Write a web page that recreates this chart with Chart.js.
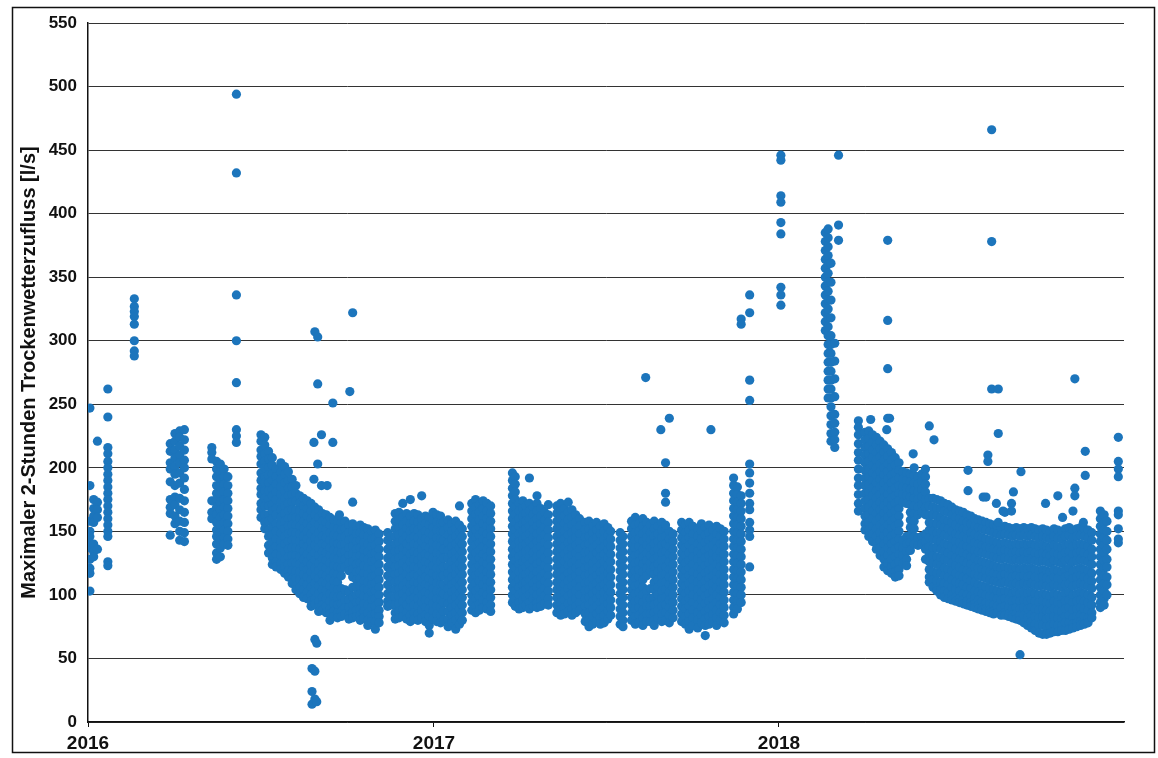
<!DOCTYPE html>
<html>
<head>
<meta charset="utf-8">
<script src="https://cdn.jsdelivr.net/npm/chart.js@4.4.1/dist/chart.umd.min.js"></script>
<style>
  html, body { margin: 0; padding: 0; background: #fff; }
  #wrap { width: 1158px; height: 758px; }
</style>
</head>
<body>
<div id="wrap"><canvas id="grafico" width="1158" height="758"></canvas></div>
<script>
// x = Tage seit 01.01.2016, y = Maximaler 2-Stunden Trockenwetterzufluss [l/s]
const yearLabels = ['2016', '2017', '2018'];
const yearStartDays = [0, 366, 731];
const lastDay = 1096;
const yTicks = { min: 0, max: 550, step: 50 };
const yTitle = 'Maximaler 2-Stunden Trockenwetterzufluss [l/s]';

// Anfang 2016: einzelne Messreihen
const early2016 = [
  [2, [247, 186, 158, 150, 146, 141, 137, 128, 121, 117, 103]],
  [6, [175, 168, 162, 157, 140, 134, 130]],
  [10, [221, 173, 167, 161, 136]],
  [21, [262, 240, 216, 211, 205, 200, 195, 190, 185, 180, 175, 170, 165, 160, 155, 150, 146, 126, 123]],
  [49, [333, 327, 323, 319, 313, 300, 292, 288]],
  [87, [219, 213, 204, 199, 189, 175, 169, 164, 147]],
  [92, [227, 221, 214, 208, 201, 195, 186, 177, 171, 162, 156]],
  [97, [229, 224, 217, 210, 204, 196, 188, 176, 167, 158, 150, 143]],
  [102, [230, 222, 214, 206, 200, 192, 183, 174, 165, 157, 149, 142]],
  [131, [216, 212, 207, 174, 165, 160]],
  [136, [205, 199, 193, 186, 180, 175, 169, 163, 157, 151, 146, 140, 133, 128]],
  [140, [203, 197, 191, 185, 179, 173, 167, 161, 155, 149, 143, 137, 130]],
  [144, [199, 193, 187, 181, 175, 169, 163, 157, 151, 145, 140]],
  [148, [193, 186, 180, 174, 168, 162, 156, 150, 144, 139]],
  [157, [494, 432, 336, 300, 267, 230, 225, 220]]
];

// zweite Jahreshaelfte 2016
const late2016 = [
  [183, [226, 221, 214, 209, 203, 196, 190, 184, 179, 172, 167, 161]],
  [187, [224, 218, 211, 205, 200, 193, 188, 182, 176, 170, 163, 157, 152]],
  [191, [213, 207, 200, 194, 188, 182, 175, 170, 163, 158, 151, 146, 139, 133]],
  [195, [208, 202, 195, 190, 183, 178, 171, 166, 160, 153, 147, 141, 135, 129, 124]],
  [199, [199, 193, 187, 181, 175, 168, 163, 156, 150, 144, 138, 132, 126, 122]],
  [204, [204, 197, 191, 185, 179, 173, 167, 161, 155, 149, 142, 137, 131, 125, 120]],
  [208, [201, 195, 188, 182, 176, 170, 164, 158, 152, 146, 140, 134, 128, 122, 117]],
  [212, [197, 190, 184, 178, 172, 166, 160, 154, 148, 142, 136, 130, 124, 119, 114]],
  [216, [191, 185, 179, 173, 167, 161, 155, 149, 143, 137, 131, 125, 119, 113, 109]],
  [220, [186, 180, 174, 167, 161, 155, 149, 143, 137, 131, 125, 119, 113, 107, 104]],
  [224, [178, 172, 166, 160, 154, 148, 142, 136, 130, 124, 118, 112, 106, 101]],
  [228, [176, 170, 164, 158, 152, 146, 140, 134, 128, 122, 116, 110, 104, 98]],
  [232, [174, 168, 162, 156, 150, 144, 138, 132, 126, 120, 114, 108, 102, 97]],
  [236, [172, 166, 160, 154, 148, 142, 136, 130, 124, 118, 112, 106, 100, 95, 91]],
  [240, [169, 163, 157, 151, 145, 139, 133, 127, 121, 115, 109, 103, 97, 93]],
  [244, [167, 161, 155, 149, 143, 137, 131, 125, 119, 113, 107, 101, 95, 90, 87]],
  [248, [164, 158, 152, 146, 140, 134, 128, 122, 116, 110, 104, 98, 92, 88]],
  [252, [163, 157, 151, 145, 139, 133, 127, 121, 115, 109, 103, 97, 91, 86]],
  [256, [161, 155, 149, 143, 137, 131, 125, 119, 113, 107, 101, 95, 89, 85, 80]],
  [260, [159, 153, 147, 141, 135, 129, 123, 117, 111, 105, 99, 93, 87, 83]],
  [264, [158, 152, 146, 140, 134, 128, 122, 116, 110, 104, 98, 92, 86, 82]],
  [268, [157, 151, 145, 139, 133, 127, 121, 115, 105, 99, 93, 87, 83]],
  [272, [158, 152, 146, 140, 134, 128, 122, 104, 96, 90, 85]],
  [276, [155, 149, 143, 137, 131, 125, 119, 102, 96, 90, 84, 81]],
  [280, [156, 150, 144, 138, 132, 126, 120, 114, 106, 98, 92, 86, 82]],
  [284, [154, 148, 142, 136, 130, 124, 118, 112, 106, 100, 94, 88, 83]],
  [288, [155, 149, 143, 137, 131, 125, 119, 113, 107, 101, 95, 89, 84, 80]],
  [292, [153, 147, 141, 135, 129, 123, 117, 111, 105, 99, 93, 87, 82]],
  [296, [152, 146, 140, 134, 128, 122, 116, 110, 104, 98, 92, 86, 80, 76]],
  [300, [150, 144, 138, 132, 126, 120, 114, 108, 102, 96, 90, 84, 79]],
  [304, [151, 145, 139, 133, 127, 121, 115, 109, 103, 97, 91, 85, 79, 73]],
  [308, [148, 142, 136, 130, 124, 118, 112, 106, 100, 94, 88, 83, 78]],
  [317, [149, 143, 136, 129, 122, 115, 108, 101, 95, 91]],
  [320, [146, 139, 132, 125, 118, 111, 104, 98, 92]],
  [325, [164, 158, 152, 146, 140, 134, 128, 122, 116, 110, 104, 98, 92, 86, 81]],
  [329, [165, 159, 153, 147, 141, 135, 129, 123, 117, 111, 105, 99, 93, 87, 82]],
  [333, [172, 161, 155, 149, 143, 137, 131, 125, 119, 113, 107, 101, 95, 89, 83]],
  [337, [164, 158, 152, 146, 140, 134, 128, 122, 116, 110, 104, 98, 92, 86, 81]],
  [341, [175, 162, 156, 150, 144, 138, 132, 126, 120, 114, 108, 102, 96, 90, 84, 79]],
  [345, [164, 158, 152, 146, 140, 134, 128, 122, 116, 110, 104, 98, 92, 86, 81]],
  [349, [163, 157, 151, 145, 139, 133, 127, 121, 115, 109, 103, 97, 91, 85, 80]],
  [353, [178, 160, 154, 148, 142, 136, 130, 124, 118, 112, 106, 100, 94, 88, 82]],
  [357, [162, 156, 150, 144, 138, 132, 126, 120, 114, 108, 102, 96, 90, 84, 79]],
  [361, [161, 155, 149, 143, 137, 131, 125, 119, 113, 107, 101, 95, 89, 83, 76, 70]],
  [365, [165, 159, 153, 147, 141, 135, 129, 123, 117, 111, 105, 99, 93, 87, 81]],
  [369, [163, 157, 151, 145, 139, 133, 127, 121, 115, 109, 103, 97, 91, 85, 79]],
  [373, [162, 156, 150, 144, 138, 132, 126, 120, 114, 108, 102, 96, 90, 84, 78]],
  [376, [157, 150, 143, 136, 129, 122, 115, 108, 101, 94, 87, 80]],
  [381, [159, 153, 147, 141, 135, 129, 123, 117, 111, 105, 99, 93, 87, 81, 75]],
  [385, [156, 150, 144, 138, 132, 126, 120, 114, 108, 102, 96, 90, 84, 78]],
  [389, [158, 152, 146, 140, 134, 128, 122, 116, 110, 104, 98, 92, 86, 80, 73]],
  [393, [170, 155, 149, 143, 137, 131, 125, 119, 113, 107, 101, 95, 89, 83, 77]],
  [396, [152, 146, 140, 134, 128, 122, 116, 110, 104, 98, 92, 86, 80]],
  [406, [172, 166, 160, 154, 148, 142, 136, 130, 124, 118, 112, 106, 100, 94, 88]],
  [410, [175, 169, 163, 157, 151, 145, 139, 133, 127, 121, 115, 109, 103, 97, 91, 86]],
  [414, [171, 165, 159, 153, 147, 141, 135, 129, 123, 117, 111, 105, 99, 93, 88]],
  [418, [174, 168, 162, 156, 150, 144, 138, 132, 126, 120, 114, 108, 102, 96, 90]],
  [422, [172, 166, 160, 154, 148, 142, 136, 130, 124, 118, 112, 106, 100, 94, 89]],
  [426, [170, 164, 158, 152, 146, 140, 134, 128, 122, 116, 110, 104, 98, 92, 87]]
];

// Ausreisser 2016
const outliers2016 = [
  [237, [42, 24, 14]],
  [239, [220, 191]],
  [240, [307, 65, 40, 18]],
  [242, [62, 16]],
  [243, [303, 266, 203]],
  [247, [226, 186]],
  [253, [186]],
  [259, [251, 220]],
  [266, [163]],
  [277, [260]],
  [280, [322, 173]]
];

// 2017
const season2017 = [
  [449, [196, 190, 184, 178, 172, 166, 160, 154, 148, 142, 136, 130, 124, 118, 112, 106, 100, 94]],
  [452, [193, 187, 181, 175, 169, 163, 157, 151, 145, 139, 133, 127, 121, 115, 109, 103, 97, 91]],
  [456, [172, 166, 160, 154, 148, 142, 136, 130, 124, 118, 112, 106, 100, 94, 89]],
  [460, [174, 168, 162, 156, 150, 144, 138, 132, 126, 120, 114, 108, 102, 96, 90]],
  [463, [170, 164, 158, 152, 146, 140, 134, 128, 122, 116, 110, 104, 98, 92]],
  [467, [192, 172, 166, 160, 154, 148, 142, 136, 130, 124, 118, 112, 106, 100, 94, 89]],
  [471, [169, 163, 157, 151, 145, 139, 133, 127, 121, 115, 109, 103, 97, 91]],
  [475, [178, 172, 166, 160, 154, 148, 142, 136, 130, 124, 118, 112, 106, 100, 94, 90]],
  [479, [168, 162, 156, 150, 144, 138, 132, 126, 120, 114, 108, 102, 96, 91]],
  [483, [165, 159, 153, 147, 141, 135, 129, 123, 117, 111, 105, 99, 93]],
  [487, [171, 163, 157, 151, 145, 139, 133, 127, 121, 115, 109, 103, 97, 92]],
  [496, [170, 164, 158, 152, 146, 140, 134, 128, 122, 116, 110, 104, 98, 92, 86]],
  [500, [172, 166, 160, 154, 148, 142, 136, 130, 124, 118, 112, 106, 100, 94, 88, 84]],
  [504, [168, 162, 156, 150, 144, 138, 132, 126, 120, 114, 108, 102, 96, 90, 85]],
  [508, [173, 165, 159, 153, 147, 141, 135, 129, 123, 117, 111, 105, 99, 93, 87]],
  [512, [167, 161, 155, 149, 143, 137, 131, 125, 119, 113, 107, 101, 95, 89, 84]],
  [516, [163, 157, 151, 145, 139, 133, 127, 121, 115, 109, 103, 97, 91, 86]],
  [520, [160, 154, 148, 142, 136, 130, 124, 118, 112, 106, 100, 94, 88]],
  [526, [157, 151, 145, 139, 133, 127, 121, 115, 109, 103, 97, 91, 85, 79]],
  [530, [158, 152, 146, 140, 134, 128, 122, 116, 110, 104, 98, 92, 86, 80, 75]],
  [534, [155, 149, 143, 137, 131, 125, 119, 113, 107, 101, 95, 89, 83, 77]],
  [538, [157, 151, 145, 139, 133, 127, 121, 115, 109, 103, 97, 91, 85, 79]],
  [542, [154, 148, 142, 136, 130, 124, 118, 112, 106, 100, 94, 88, 82, 77]],
  [546, [156, 150, 144, 138, 132, 126, 120, 114, 108, 102, 96, 90, 84, 78]],
  [550, [153, 147, 141, 135, 129, 123, 117, 111, 105, 99, 93, 87, 81]],
  [553, [150, 144, 138, 132, 126, 120, 114, 108, 102, 96, 90, 84]],
  [563, [149, 143, 137, 131, 125, 119, 113, 107, 101, 95, 89, 83, 77]],
  [566, [146, 140, 134, 128, 122, 116, 110, 104, 98, 92, 86, 80, 75]],
  [575, [158, 152, 146, 140, 134, 128, 122, 116, 110, 104, 98, 92, 86, 80]],
  [579, [161, 155, 149, 143, 137, 131, 125, 119, 113, 107, 101, 95, 89, 83, 77]],
  [583, [156, 150, 144, 138, 132, 126, 120, 114, 108, 102, 96, 90, 84, 78]],
  [587, [160, 154, 148, 142, 136, 130, 124, 118, 112, 106, 100, 94, 88, 82, 76]],
  [591, [157, 151, 145, 139, 133, 127, 121, 115, 103, 97, 91, 85, 79]],
  [595, [155, 149, 143, 137, 131, 125, 119, 105, 97, 91, 85, 79]],
  [599, [158, 152, 146, 140, 134, 128, 122, 116, 110, 104, 98, 92, 86, 80, 76]],
  [603, [154, 148, 142, 136, 130, 124, 118, 112, 106, 100, 94, 88, 82]],
  [607, [157, 151, 145, 139, 133, 127, 121, 115, 109, 103, 97, 91, 85, 79]],
  [611, [152, 146, 140, 134, 128, 122, 116, 110, 104, 98, 92, 86, 80]],
  [615, [150, 144, 138, 132, 126, 120, 114, 108, 102, 96, 90, 84, 78]],
  [619, [148, 142, 136, 130, 124, 118, 112, 106, 100, 94, 88, 82]],
  [628, [157, 151, 145, 139, 133, 127, 121, 115, 109, 103, 97, 91, 85, 79]],
  [632, [155, 149, 143, 137, 131, 125, 119, 113, 107, 101, 95, 89, 83, 77]],
  [636, [157, 151, 145, 139, 133, 127, 121, 115, 109, 103, 97, 91, 85, 79, 73]],
  [640, [154, 148, 142, 136, 130, 124, 118, 112, 106, 100, 94, 88, 82, 76]],
  [645, [152, 146, 140, 134, 128, 122, 116, 110, 104, 98, 92, 86, 80, 74]],
  [649, [156, 150, 144, 138, 132, 126, 120, 114, 108, 102, 96, 90, 84, 78]],
  [653, [153, 147, 141, 135, 129, 123, 117, 111, 105, 99, 93, 87, 81, 76, 68]],
  [657, [155, 149, 143, 137, 131, 125, 119, 113, 107, 101, 95, 89, 83, 77]],
  [661, [151, 145, 139, 133, 127, 121, 115, 109, 103, 97, 91, 85, 79]],
  [665, [154, 148, 142, 136, 130, 124, 118, 112, 106, 100, 94, 88, 82, 76]],
  [669, [152, 146, 140, 134, 128, 122, 116, 110, 104, 98, 92, 86, 80]],
  [673, [150, 144, 138, 132, 126, 120, 114, 108, 102, 96, 90, 84, 78]],
  [683, [192, 186, 180, 174, 168, 162, 156, 150, 144, 138, 132, 126, 120, 114, 108, 102, 96, 90, 85]],
  [687, [185, 179, 173, 167, 161, 155, 149, 143, 137, 131, 125, 119, 113, 107, 101, 95, 89]],
  [691, [317, 313, 178, 172, 166, 160, 154, 148, 142, 136, 130, 124, 118, 112, 106, 100, 94]],
  [700, [336, 322, 269, 253, 203, 196, 188, 180, 172, 167, 157, 151, 146, 122]]
];

// Ausreisser 2017
const outliers2017 = [
  [590, [271]],
  [606, [230]],
  [611, [204, 180, 173, 155]],
  [615, [239]],
  [659, [230]]
];

// Anfang 2018: Spitze im Maerz
const spike2018 = [
  [733, [446, 442, 414, 409, 393, 384, 342, 336, 328]],
  [780, [385, 378, 371, 364, 357, 350, 343, 336, 329, 322, 315, 308]],
  [783, [388, 381, 374, 367, 360, 353, 346, 339, 332, 325, 318, 311, 304, 297, 290, 283, 276, 269, 262, 255]],
  [786, [361, 346, 332, 318, 304, 297, 290, 283, 276, 269, 262, 255, 248, 241, 234, 227, 221]],
  [790, [298, 284, 270, 256, 242, 235, 228, 222, 216]],
  [794, [446, 391, 379]],
  [815, [237, 232, 226, 219, 212, 206, 199, 192, 186, 179, 172, 166]]
];

// zweite Jahreshaelfte 2018
const late2018 = [
  [822, [228, 222, 216, 210, 204, 198, 192, 186, 180, 174, 168, 162, 156, 151]],
  [826, [229, 223, 217, 211, 205, 199, 193, 187, 181, 175, 169, 163, 157, 151, 146]],
  [830, [226, 220, 214, 208, 202, 196, 190, 184, 178, 172, 166, 160, 154, 148, 142]],
  [834, [224, 218, 212, 206, 200, 194, 188, 182, 176, 170, 164, 158, 152, 146, 140, 136]],
  [838, [221, 215, 209, 203, 197, 191, 185, 179, 173, 167, 161, 155, 149, 143, 137, 131]],
  [842, [218, 212, 206, 200, 194, 188, 182, 176, 170, 164, 158, 152, 146, 140, 134, 128, 122]],
  [846, [215, 209, 203, 197, 191, 185, 179, 173, 167, 161, 155, 149, 143, 137, 131, 125, 119]],
  [850, [212, 206, 200, 194, 188, 182, 176, 170, 164, 158, 152, 146, 140, 134, 128, 122, 117]],
  [854, [208, 202, 196, 190, 184, 178, 172, 166, 160, 154, 148, 142, 136, 130, 124, 118, 114]],
  [858, [204, 198, 192, 186, 180, 174, 168, 162, 156, 150, 144, 138, 132, 126, 120, 115]],
  [862, [197, 191, 185, 179, 173, 143, 137, 131, 125]],
  [866, [196, 190, 184, 178, 172, 146, 140, 134, 128, 123]],
  [870, [195, 189, 183, 177, 171, 165, 159, 153, 147, 141, 135]],
  [874, [194, 188, 182, 176, 170, 164, 158, 152, 146, 140]],
  [878, [193, 187, 181, 175, 169, 163, 145, 139]],
  [882, [195, 189, 183, 177, 171, 165, 146, 140]],
  [886, [199, 193, 187, 181, 175, 169, 163, 148, 142, 136, 128]],
  [890, [176, 170, 163, 157, 151, 145, 138, 132, 126, 120, 114, 110]],
  [894, [176, 169, 163, 156, 150, 144, 137, 131, 125, 118, 112, 106]],
  [898, [175, 168, 162, 156, 149, 143, 137, 130, 124, 117, 111, 105, 103]],
  [902, [174, 168, 161, 155, 149, 142, 136, 129, 123, 117, 110, 104, 100]],
  [906, [172, 166, 159, 153, 147, 140, 134, 128, 121, 115, 109, 103, 98]],
  [910, [171, 165, 158, 152, 146, 139, 133, 127, 120, 114, 108, 102, 97]],
  [914, [169, 163, 157, 150, 144, 138, 131, 125, 119, 112, 106, 100, 96]],
  [918, [167, 161, 155, 148, 142, 136, 129, 123, 117, 110, 104, 98, 95]],
  [922, [166, 160, 153, 147, 141, 134, 128, 122, 115, 109, 103, 97, 94]],
  [926, [165, 158, 152, 146, 139, 133, 127, 120, 114, 108, 101, 96, 93]],
  [930, [163, 157, 151, 144, 138, 132, 125, 119, 113, 106, 100, 95, 92]],
  [934, [162, 156, 149, 143, 137, 130, 124, 118, 111, 105, 99, 94, 91]],
  [938, [160, 154, 148, 141, 135, 129, 122, 116, 110, 103, 97, 93, 90]],
  [942, [159, 153, 146, 140, 134, 127, 121, 115, 108, 102, 96, 92, 89]],
  [946, [158, 152, 145, 139, 133, 126, 120, 114, 107, 101, 95, 90, 88]],
  [950, [157, 151, 144, 138, 132, 125, 119, 113, 106, 100, 94, 89, 87]],
  [954, [156, 150, 143, 137, 131, 124, 118, 112, 105, 99, 93, 88, 86]],
  [958, [155, 149, 142, 136, 130, 123, 117, 111, 104, 98, 92, 87, 85]],
  [962, [154, 148, 141, 135, 129, 122, 116, 110, 103, 97, 91, 86]],
  [966, [153, 147, 140, 134, 128, 121, 115, 109, 102, 96, 90, 84]],
  [970, [154, 148, 141, 135, 129, 122, 116, 110, 103, 97, 91, 86, 84]],
  [974, [153, 147, 140, 134, 128, 121, 115, 109, 102, 96, 90, 85, 83]],
  [978, [152, 146, 139, 133, 127, 120, 114, 108, 101, 95, 89, 84, 82]],
  [982, [153, 147, 140, 134, 128, 121, 115, 109, 102, 96, 90, 85, 81]],
  [986, [152, 146, 139, 133, 127, 120, 114, 108, 101, 95, 89, 84, 80]],
  [990, [153, 147, 140, 134, 128, 121, 115, 109, 102, 96, 90, 84, 78]],
  [994, [152, 146, 139, 133, 127, 120, 114, 108, 101, 95, 89, 82, 76]],
  [998, [153, 147, 140, 134, 128, 121, 115, 109, 102, 96, 90, 84, 79, 74]],
  [1002, [152, 146, 139, 133, 127, 120, 114, 108, 101, 95, 89, 83, 77, 72]],
  [1006, [151, 145, 138, 132, 126, 119, 113, 107, 100, 94, 88, 82, 76, 70]],
  [1010, [152, 146, 139, 133, 127, 120, 114, 108, 101, 95, 89, 83, 76, 69]],
  [1014, [151, 145, 138, 132, 126, 119, 113, 107, 100, 94, 88, 81, 75, 69]],
  [1018, [150, 144, 137, 131, 125, 118, 112, 106, 99, 93, 87, 82, 76, 70]],
  [1022, [152, 146, 139, 133, 127, 120, 114, 108, 101, 95, 89, 83, 77, 71]],
  [1026, [151, 145, 138, 132, 126, 119, 113, 107, 100, 94, 88, 82, 76, 71]],
  [1030, [150, 144, 137, 131, 125, 118, 112, 106, 99, 93, 87, 81, 76, 72]],
  [1034, [152, 146, 139, 133, 127, 120, 114, 108, 101, 95, 89, 83, 78, 72]],
  [1038, [153, 147, 140, 134, 128, 121, 115, 109, 102, 96, 90, 84, 78, 73]],
  [1042, [151, 145, 138, 132, 126, 119, 113, 107, 100, 94, 88, 82, 77, 74]],
  [1046, [152, 146, 139, 133, 127, 120, 114, 108, 101, 95, 89, 83, 78, 75]],
  [1050, [153, 147, 140, 134, 128, 121, 115, 109, 102, 96, 90, 84, 79, 76]],
  [1054, [152, 146, 139, 133, 127, 120, 114, 108, 101, 95, 89, 83, 77]],
  [1058, [151, 145, 138, 132, 126, 119, 113, 107, 100, 94, 88, 82, 78]],
  [1062, [149, 143, 136, 130, 124, 117, 111, 105, 98, 92, 86, 82]],
  [1071, [166, 160, 154, 148, 142, 136, 130, 124, 118, 112, 106, 100, 94, 90]],
  [1075, [163, 157, 151, 145, 139, 133, 127, 121, 115, 109, 103, 97, 92]],
  [1078, [158, 150, 143, 136, 128, 122, 114, 108, 100]],
  [1090, [224, 205, 199, 193, 166, 163, 152, 144, 141]]
];

// Ausreisser 2018
const outliers2018 = [
  [828, [238]],
  [845, [230]],
  [846, [379, 316, 278, 239]],
  [848, [239]],
  [873, [211]],
  [874, [200]],
  [890, [233]],
  [895, [222]],
  [931, [198, 182]],
  [947, [177]],
  [950, [177]],
  [952, [210, 205]],
  [956, [466, 378, 262]],
  [961, [172]],
  [963, [262, 227, 157]],
  [968, [166]],
  [970, [165]],
  [977, [172, 166]],
  [979, [181]],
  [986, [53]],
  [987, [197]],
  [1013, [172]],
  [1026, [178]],
  [1031, [161]],
  [1042, [166]],
  [1044, [270, 184, 178]],
  [1053, [157]],
  [1055, [213, 194]]
];

const allColumns = [].concat(early2016, late2016, outliers2016, season2017, outliers2017, spike2018, late2018, outliers2018);
const points = [];
allColumns.forEach(([day, values]) => {
  values.forEach(v => points.push({ x: day, y: v }));
});

const fontFamily = '"Liberation Sans", Arial, Helvetica, sans-serif';

const framePlugin = {
  id: 'frame',
  beforeDraw: (chart) => {
    const c = chart.ctx;
    c.save();
    c.fillStyle = '#ffffff';
    c.fillRect(0, 0, chart.width, chart.height);
    c.restore();
  },
  afterDraw: (chart) => {
    const c = chart.ctx;
    c.save();
    c.strokeStyle = '#111';
    c.lineWidth = 1.5;
    c.strokeRect(12.5, 7.5, 1142, 745);
    c.restore();
  }
};

const grafico = document.getElementById('grafico');
const chart = new Chart(grafico, {
  type: 'scatter',
  data: {
    datasets: [{
      data: points,
      backgroundColor: 'rgb(28,117,188)',
      borderWidth: 0,
      pointRadius: 4.6,
      pointHoverRadius: 4.6
    }]
  },
  options: {
    responsive: false,
    animation: false,
    layout: { padding: { left: 0, right: 34, top: 23, bottom: 0 } },
    plugins: {
      legend: { display: false },
      tooltip: { enabled: false }
    },
    scales: {
      x: {
        type: 'linear',
        min: 0,
        max: lastDay,
        afterBuildTicks: (scale) => {
          scale.ticks = yearStartDays.map(d => ({ value: d }));
        },
        afterFit: (scale) => { scale.height = 36; },
        ticks: {
          callback: (value, index) => yearLabels[index],
          color: '#111',
          font: { family: fontFamily, size: 19, weight: 'bold' },
          maxRotation: 0,
          autoSkip: false,
          padding: 5
        },
        grid: { drawOnChartArea: false, drawTicks: true, tickLength: 5, color: '#111', lineWidth: 1 },
        border: { display: true, color: '#111', width: 1.5 }
      },
      y: {
        min: yTicks.min,
        max: yTicks.max,
        afterFit: (scale) => { scale.width = 88; },
        ticks: {
          stepSize: yTicks.step,
          color: '#111',
          font: { family: fontFamily, size: 17, weight: 'bold' },
          padding: 11
        },
        grid: { color: '#333', lineWidth: 1, drawTicks: false },
        border: { display: true, color: '#111', width: 1.5 },
        title: {
          display: true,
          text: yTitle,
          color: '#111',
          font: { family: fontFamily, size: 20, weight: 'bold' },
          padding: { top: 17, bottom: 0 }
        }
      }
    }
  },
  plugins: [framePlugin]
});
</script>
</body>
</html>
